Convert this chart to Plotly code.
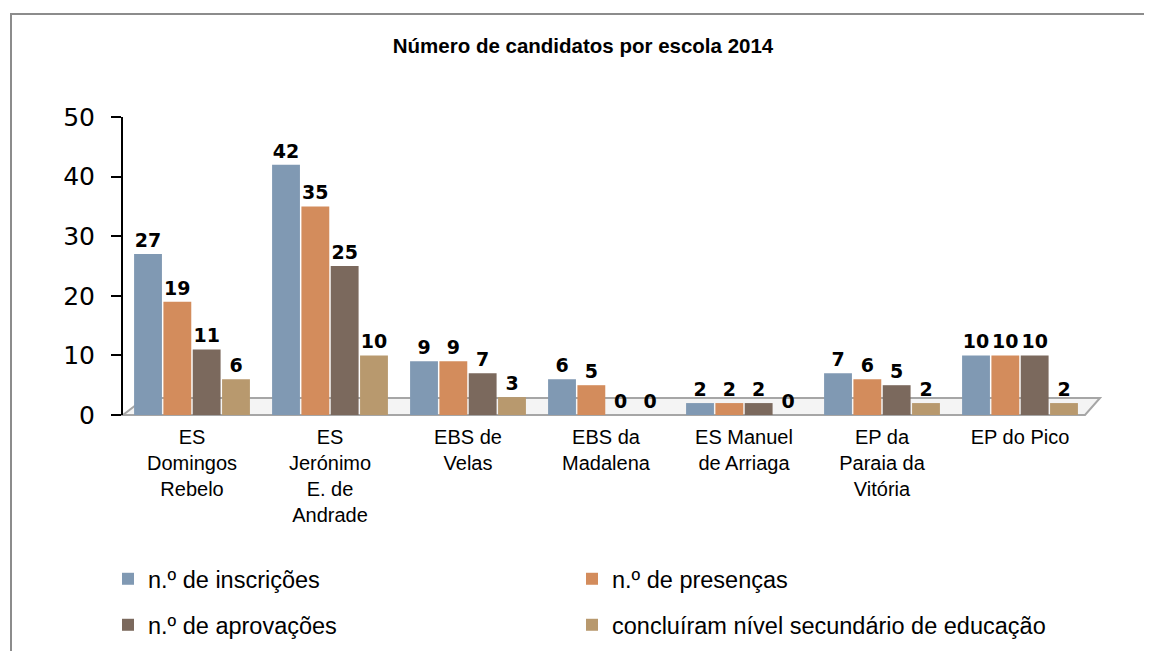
import plotly.graph_objects as go

categories = ["ES<br>Domingos<br>Rebelo", "ES<br>Jerónimo<br>E. de<br>Andrade", "EBS de<br>Velas",
              "EBS da<br>Madalena", "ES Manuel<br>de Arriaga", "EP da<br>Paraia da<br>Vitória", "EP do Pico"]
inscricoes = [27, 42, 9, 6, 2, 7, 10]
presencas = [19, 35, 9, 5, 2, 6, 10]
aprovacoes = [11, 25, 7, 0, 2, 5, 10]
concluiram = [6, 10, 3, 0, 0, 2, 2]
series_names = ["n.º de inscrições", "n.º de presenças", "n.º de aprovações",
                "concluíram nível secundário de educação"]
colors = ["#8099b3", "#d38c5c", "#7b695d", "#b8996e"]
legends = ["legend", "legend2", "legend3", "legend4"]

# the page body has an 8px margin; work in screenshot coordinates and shift
OFF = 8
W, H = 1152 - OFF, 651 - OFF
def X(x):
    return x - OFF
def Y(y):
    return y - OFF

L, R, T, B = X(123), X(1089), Y(117), Y(415)

fig = go.Figure()
for name, vals, col, lg in zip(series_names, [inscricoes, presencas, aprovacoes, concluiram], colors, legends):
    fig.add_trace(go.Bar(
        x=categories, y=vals, name=name, marker=dict(color=col, line=dict(width=0)),
        text=vals, textposition="outside", cliponaxis=False,
        textfont=dict(family="DejaVu Sans", size=19, color="black", weight="bold"),
        legend=lg,
    ))

pw = R - L
ph = B - T
def px(x):
    return (X(x) - L) / pw
def py(y):
    return (B - Y(y)) / ph

shapes = [
    # floor
    dict(type="path", xref="paper", yref="paper",
         path=f"M {px(123)},{py(415)} L {px(1085)},{py(415)} L {px(1100)},{py(398)} L {px(145)},{py(398)} Z",
         fillcolor="#f4f4f4", line=dict(color="#a6a6a6", width=2), layer="below"),
    # outer border
    dict(type="rect", xref="paper", yref="paper",
         x0=px(11), x1=px(1170), y0=py(690), y1=py(14),
         line=dict(color="#8c8c8c", width=2), fillcolor="rgba(0,0,0,0)", layer="below"),
]

def legend_at(x, y):
    return dict(orientation="h", xref="container", yref="container", x=X(x) / W, y=1 - Y(y) / H,
                xanchor="left", yanchor="top", font=dict(size=23.5), bgcolor="rgba(0,0,0,0)")

fig.update_layout(
    width=W, height=H,
    margin=dict(l=L, r=W - R, t=T, b=H - B, pad=0),
    paper_bgcolor="white", plot_bgcolor="white",
    barmode="group", bargap=0.15, bargroupgap=0.05,
    font=dict(family="Liberation Sans", color="black"),
    title=dict(text="<b>Número de candidatos por escola 2014</b>", x=X(583) / W, xanchor="center",
               y=1 - Y(46) / H, yanchor="middle", font=dict(family="Liberation Sans", size=20.5)),
    shapes=shapes,
    showlegend=True,
    legend=legend_at(108, 557),
    legend2=legend_at(572, 557),
    legend3=legend_at(108, 603),
    legend4=legend_at(572, 603),
)
fig.update_yaxes(range=[0, 50], dtick=10, showgrid=False, zeroline=False, showline=True,
                 linecolor="black", linewidth=2, ticks="outside", ticklen=10, tickcolor="black",
                 tickwidth=2, tickfont=dict(family="DejaVu Sans", size=25), ticklabelstandoff=11)
fig.update_xaxes(showgrid=False, showline=False, ticks="", tickfont=dict(family="Liberation Sans", size=20),
                 tickangle=0, ticklabelstandoff=8)

fig.write_html("out.html")
